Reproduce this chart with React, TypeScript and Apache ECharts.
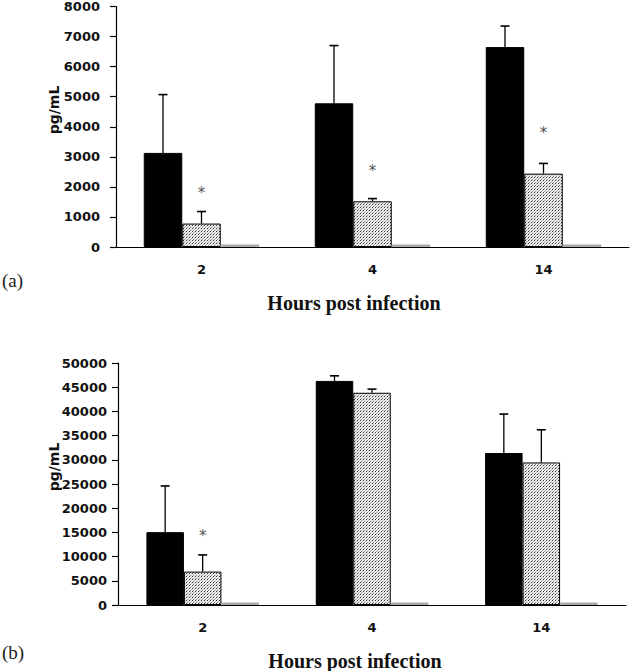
import React, { useEffect, useRef } from "react";
import * as echarts from "echarts";

// ---- data ----
const categories = ["2", "4", "14"];

// panel (a)
const aBlack = [3130, 4780, 6650];
const aBlackErr = [1940, 1920, 700];
const aDotted = [780, 1520, 2440];
const aDottedErr = [400, 90, 340];
const aGray = [80, 80, 80];
const aSig = [1800, 2520, 3780]; // asterisk levels

// panel (b)
const bBlack = [15050, 46300, 31400];
const bBlackErr = [9550, 1050, 8050];
const bDotted = [6900, 43850, 29450];
const bDottedErr = [3450, 750, 6750];
const bGray = [500, 500, 500];
const bSig: (number | null)[] = [14300, null, null];

const yTicksA = { min: 0, max: 8000, interval: 1000 };
const yTicksB = { min: 0, max: 50000, interval: 5000 };

const LABEL_FONT = "DejaVu Sans";
const SERIF = "Liberation Serif";

export default function App() {
  const ref = useRef<HTMLDivElement>(null);
  useEffect(() => {
    document.body.style.margin = "0";
    if (!ref.current) return;
    const chart = echarts.init(ref.current, undefined, { renderer: "svg" });

    const cv = document.createElement("canvas");
    cv.width = 3;
    cv.height = 3;
    const ctx = cv.getContext("2d")!;
    ctx.fillStyle = "#eeeeee";
    ctx.fillRect(0, 0, 3, 3);
    ctx.fillStyle = "#333333";
    ctx.fillRect(0, 0, 1, 1);
    ctx.fillStyle = "#888888";
    ctx.fillRect(1, 2, 1, 1);
    ctx.fillStyle = "#bbbbbb";
    ctx.fillRect(2, 1, 1, 1);
    const dotted: any = { image: cv, repeat: "repeat" };

    const barW = [38.5, 37.5];

    const errSeries = (idx: number, vals: number[], errs: number[], offset: number) => ({
      type: "custom",
      xAxisIndex: idx,
      yAxisIndex: idx,
      z: 10,
      silent: true,
      clip: false,
      encode: { x: 0, y: 1 },
      data: vals.map((v, i) => [i, v, errs[i]]),
      renderItem: (params: any, api: any) => {
        const ci = api.value(0);
        const v = api.value(1);
        const e = api.value(2);
        const base = api.coord([ci, v]);
        const top = api.coord([ci, v + e]);
        const x = base[0] + offset * barW[idx];
        return {
          type: "group",
          children: [
            { type: "line", shape: { x1: x, y1: base[1], x2: x, y2: top[1] }, style: { stroke: "#000", lineWidth: 1.3 } },
            { type: "line", shape: { x1: x - 4.5, y1: top[1], x2: x + 4.5, y2: top[1] }, style: { stroke: "#000", lineWidth: 1.6 } },
          ],
        };
      },
    });

    const sigSeries = (idx: number, sig: (number | null)[], offset: number) => ({
      type: "custom",
      xAxisIndex: idx,
      yAxisIndex: idx,
      z: 11,
      silent: true,
      clip: false,
      encode: { x: 0, y: 1 },
      data: sig.map((v, i) => (v == null ? [i, "-"] : [i, v])),
      renderItem: (params: any, api: any) => {
        const v = api.value(1);
        if (v == null || isNaN(v)) return null;
        const p = api.coord([api.value(0), v]);
        return {
          type: "text",
          x: p[0] + offset * barW[idx],
          y: p[1],
          style: { text: "*", fill: "#555", font: `15px ${LABEL_FONT}`, align: "center", verticalAlign: "middle" },
        };
      },
    });

    const barSeries = (idx: number, data: number[], kind: "black" | "dotted" | "gray") => ({
      type: "bar",
      xAxisIndex: idx,
      yAxisIndex: idx,
      data,
      barWidth: barW[idx],
      barGap: "0%",
      itemStyle:
        kind === "black"
          ? { color: "#000", borderColor: "#000", borderWidth: 1 }
          : kind === "dotted"
          ? { color: dotted, borderColor: "#000", borderWidth: 1 }
          : { color: "#aaaaaa", borderWidth: 0 },
    });

    const yAxisBase = (t: any, idx: number, margin: number) => ({
      type: "value",
      gridIndex: idx,
      min: t.min,
      max: t.max,
      interval: t.interval,
      splitLine: { show: false },
      axisLine: { show: true, lineStyle: { color: "#000", width: 1.2 } },
      axisTick: { show: true, inside: false, length: 6, lineStyle: { color: "#000", width: 1.2 } },
      axisLabel: {
        color: "#111",
        fontFamily: LABEL_FONT,
        fontWeight: "bold",
        fontSize: 13,
        margin,
        formatter: (v: number) => String(v),
      },
    });

    const xAxisBase = (idx: number) => ({
      type: "category",
      gridIndex: idx,
      data: categories,
      axisLine: { show: true, lineStyle: { color: "#000", width: 1.2 } },
      axisTick: { show: false },
      axisLabel: { color: "#111", fontFamily: LABEL_FONT, fontWeight: "bold", fontSize: 13, margin: 16 },
    });

    const pgText = (y: number) => ({
      type: "text",
      x: 54,
      y,
      rotation: Math.PI / 2,
      style: { text: "pg/mL", font: `bold 14px ${LABEL_FONT}`, fill: "#111", align: "center", verticalAlign: "middle" },
    });

    chart.setOption({
      animation: false,
      backgroundColor: "#fff",
      grid: [
        { left: 116, right: 1, top: 5, height: 242 },
        { left: 118, right: 4, top: 363, height: 242 },
      ],
      xAxis: [xAxisBase(0), xAxisBase(1)],
      yAxis: [yAxisBase(yTicksA, 0, 16), yAxisBase(yTicksB, 1, 11)],
      series: [
        barSeries(0, aBlack, "black"),
        barSeries(0, aDotted, "dotted"),
        barSeries(0, aGray, "gray"),
        errSeries(0, aBlack, aBlackErr, -1),
        errSeries(0, aDotted, aDottedErr, 0),
        sigSeries(0, aSig, 0),
        barSeries(1, bBlack, "black"),
        barSeries(1, bDotted, "dotted"),
        barSeries(1, bGray, "gray"),
        errSeries(1, bBlack, bBlackErr, -1),
        errSeries(1, bDotted, bDottedErr, 0),
        sigSeries(1, bSig, 0),
      ],
      graphic: [
        pgText(110),
        pgText(467),
        {
          type: "text",
          x: 2,
          y: 280,
          style: { text: "(a)", font: `19px ${SERIF}`, fill: "#222", align: "left", verticalAlign: "middle" },
        },
        {
          type: "text",
          x: 2,
          y: 652,
          style: { text: "(b)", font: `19px ${SERIF}`, fill: "#222", align: "left", verticalAlign: "middle" },
        },
        {
          type: "text",
          x: 354,
          y: 303,
          style: { text: "Hours post infection", font: `bold 20px ${SERIF}`, fill: "#111", align: "center", verticalAlign: "middle" },
        },
        {
          type: "text",
          x: 355,
          y: 661,
          style: { text: "Hours post infection", font: `bold 20px ${SERIF}`, fill: "#111", align: "center", verticalAlign: "middle" },
        },
      ],
    });
    return () => chart.dispose();
  }, []);
  return <div ref={ref} style={{ width: 630, height: 671 }} />;
}
